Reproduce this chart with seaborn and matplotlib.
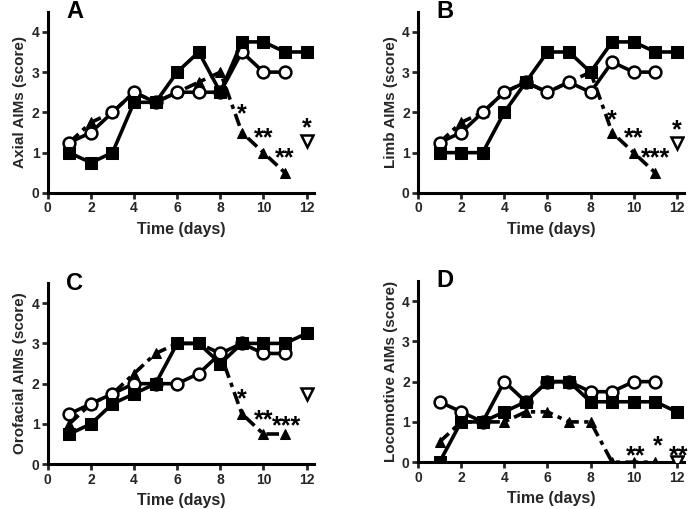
import matplotlib
matplotlib.use("Agg")
import matplotlib.pyplot as plt
import seaborn as sns
import pandas as pd

# ---- data ----
days = list(range(1, 13))
days_11 = list(range(1, 12))

panels = ['A', 'B', 'C', 'D']
ylabels = ['Axial AIMs (score)', 'Limb AIMs (score)',
           'Orofacial AIMs (score)', 'Locomotive AIMs (score)']

squares = {
    'A': [1.0, 0.75, 1.0, 2.25, 2.25, 3.0, 3.5, 2.5, 3.75, 3.75, 3.5, 3.5],
    'B': [1.0, 1.0, 1.0, 2.0, 2.75, 3.5, 3.5, 3.0, 3.75, 3.75, 3.5, 3.5],
    'C': [0.75, 1.0, 1.5, 1.75, 2.0, 3.0, 3.0, 2.5, 3.0, 3.0, 3.0, 3.25],
    'D': [0.0, 1.0, 1.0, 1.25, 1.5, 2.0, 2.0, 1.5, 1.5, 1.5, 1.5, 1.25],
}
circles = {
    'A': [1.25, 1.5, 2.0, 2.5, 2.25, 2.5, 2.5, 2.5, 3.5, 3.0, 3.0],
    'B': [1.25, 1.5, 2.0, 2.5, 2.75, 2.5, 2.75, 2.5, 3.25, 3.0, 3.0],
    'C': [1.25, 1.5, 1.75, 2.0, 2.0, 2.0, 2.25, 2.75, 3.0, 2.75, 2.75],
    'D': [1.5, 1.25, 1.0, 2.0, 1.5, 2.0, 2.0, 1.75, 1.75, 2.0, 2.0],
}
triangles = {
    'A': [1.25, 1.75, 2.0, 2.5, 2.25, 2.5, 2.75, 3.0, 1.5, 1.0, 0.5],
    'B': [1.25, 1.75, 2.0, 2.5, 2.75, 2.5, 2.75, 3.0, 1.5, 1.0, 0.5],
    'C': [1.0, 1.5, 1.75, 2.25, 2.75, 3.0, 3.0, 2.75, 1.25, 0.75, 0.75],
    'D': [0.5, 1.0, 1.0, 1.0, 1.25, 1.25, 1.0, 1.0, 0.0, 0.0, 0.0],
}
# open inverted triangle at day 12
open_tri = {'A': 1.3, 'B': 1.25, 'C': 1.75, 'D': 0.0}

# significance marks: (day, score, text)
stars = {
    'A': [(9.0, 1.95, '*'), (10.0, 1.35, '**'), (11.0, 0.85, '**'), (12.0, 1.6, '*')],
    'B': [(9.0, 1.8, '*'), (10.0, 1.35, '**'), (11.0, 0.85, '***'), (12.0, 1.55, '*')],
    'C': [(9.0, 1.6, '*'), (10.0, 1.1, '**'), (11.05, 0.95, '***')],
    'D': [(10.1, 0.15, '**'), (11.1, 0.4, '*'), (12.1, 0.15, '**')],
}

sns.set_theme(style='ticks')
plt.rcParams['font.family'] = ['Liberation Sans', 'DejaVu Sans']
plt.rcParams['font.weight'] = 'bold'

fig = plt.figure(figsize=(6.92, 5.09), dpi=100)
boxes = {
    'A': [0.069, 0.621, 0.385, 0.356],
    'B': [0.604, 0.621, 0.385, 0.356],
    'C': [0.069, 0.088, 0.385, 0.356],
    'D': [0.604, 0.092, 0.385, 0.356],
}

for key, ylab in zip(panels, ylabels):
    ax = fig.add_axes(boxes[key])

    tri_df = pd.DataFrame({'day': days_11, 'score': triangles[key]})
    sns.lineplot(data=tri_df, x='day', y='score', ax=ax, color='black',
                 linewidth=2.6, linestyle=(0, (3.5, 1.5, 1.2, 1.5)),
                 marker='^', markersize=7, markerfacecolor='black',
                 markeredgecolor='black', errorbar=None, zorder=3)

    circ_df = pd.DataFrame({'day': days_11, 'score': circles[key]})
    sns.lineplot(data=circ_df, x='day', y='score', ax=ax, color='black',
                 linewidth=2.6, marker='o', markersize=8.5,
                 markerfacecolor='white', markeredgecolor='black',
                 markeredgewidth=1.8, errorbar=None, zorder=4)

    sq_df = pd.DataFrame({'day': days, 'score': squares[key]})
    sns.lineplot(data=sq_df, x='day', y='score', ax=ax, color='black',
                 linewidth=2.6, marker='s', markersize=8,
                 markerfacecolor='black', markeredgecolor='black',
                 errorbar=None, zorder=5)

    ax.plot([12], [open_tri[key]], marker='v', markersize=8.5,
            markerfacecolor='white', markeredgecolor='black',
            markeredgewidth=1.8, linestyle='none', zorder=6)

    for sx, sy, txt in stars[key]:
        ax.text(sx, sy, txt, ha='center', va='center', fontsize=18,
                fontweight='bold', color='black', zorder=7)

    ax.set_xlim(0, 12.35)
    ax.set_ylim(0, 4.5)
    ax.set_xticks([0, 2, 4, 6, 8, 10, 12])
    ax.set_yticks([0, 1, 2, 3, 4])
    ax.tick_params(axis='both', direction='out', length=4, width=2,
                   labelsize=10, pad=2)
    for lbl in ax.get_xticklabels() + ax.get_yticklabels():
        lbl.set_fontweight('bold')
    ax.set_xlabel('Time (days)', fontsize=11.5, fontweight='bold', labelpad=5)
    ax.set_ylabel(ylab, fontsize=11, fontweight='bold', labelpad=3)
    sns.despine(ax=ax)
    for side in ['left', 'bottom']:
        ax.spines[side].set_linewidth(2.2)
        ax.spines[side].set_color('black')
    ax.text(0.07, 1.0, key, transform=ax.transAxes, ha='left', va='center',
            fontsize=17, fontweight='bold', color='black')

fig.savefig('out.png', dpi=100)
